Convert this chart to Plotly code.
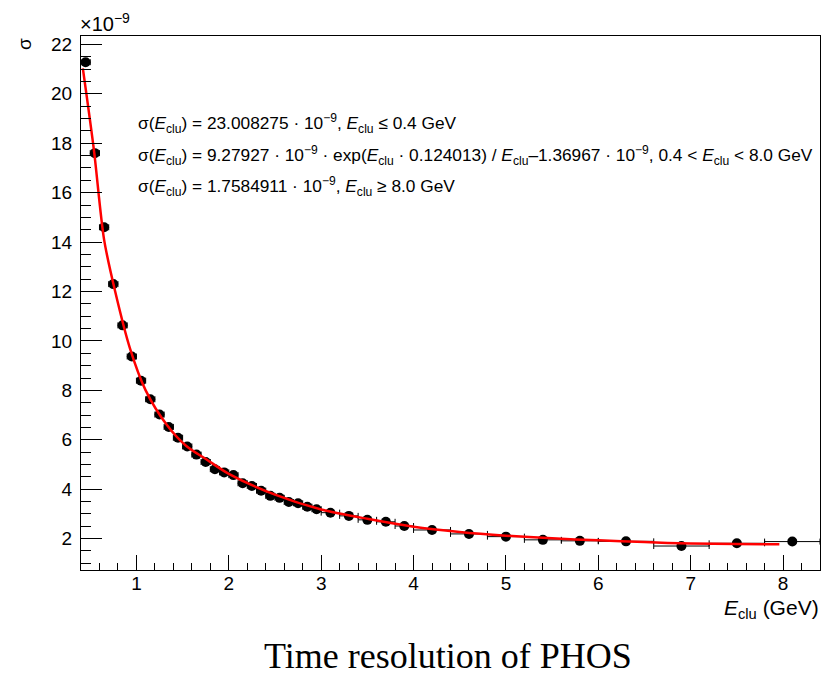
import plotly.graph_objects as go

# Data (sigma in units of 1e-9)
e_clu = [0.45, 0.55, 0.65, 0.75, 0.85, 0.95, 1.05, 1.15, 1.25, 1.35, 1.45, 1.55, 1.65,
         1.75, 1.85, 1.95, 2.05, 2.15, 2.25, 2.35, 2.45, 2.55, 2.65, 2.75, 2.85, 2.95,
         3.1, 3.3, 3.5, 3.7, 3.9, 4.2, 4.6, 5.0, 5.4, 5.8, 6.3, 6.9, 7.5, 8.1]
e_half_width = [0.05] * 26 + [0.1] * 5 + [0.2] * 5 + [0.3] * 4
sigma = [21.28, 17.6, 14.6, 12.3, 10.63, 9.37, 8.39, 7.64, 7.02, 6.52, 6.08, 5.73, 5.4,
         5.1, 4.81, 4.68, 4.57, 4.24, 4.13, 3.94, 3.73, 3.65, 3.48, 3.43, 3.29, 3.19,
         3.05, 2.92, 2.76, 2.68, 2.51, 2.35, 2.19, 2.08, 1.95, 1.91, 1.89, 1.70, 1.81, 1.88]

fit_x = [0.42, 0.54, 0.65, 0.77, 0.93, 1.1, 1.33, 1.54, 1.76, 2.0, 2.5, 3.0, 3.5, 4.0,
         4.5, 5.0, 5.5, 6.0, 6.5, 7.0, 7.5, 7.96]
fit_y = [21.03, 17.72, 14.1, 12.0, 9.7, 8.0, 6.6, 5.75, 5.2, 4.62, 3.78, 3.18, 2.8, 2.48,
         2.27, 2.12, 2.01, 1.93, 1.86, 1.80, 1.78, 1.77]

x_range = [0.4, 8.4]
y_range = [0.73, 22.34]

W, H = 823, 677
L, R, T, B = 81, 3, 36, 107
PW, PH = W - L - R, H - T - B


def px(xp):
    return (xp - L) / PW


def py(yp):
    return (H - B - yp) / PH


SANS = "Liberation Sans, Arial, sans-serif"

fig = go.Figure()
fig.add_trace(go.Scatter(
    x=e_clu, y=sigma, mode="markers",
    marker=dict(color="black", size=10),
    error_x=dict(type="data", array=e_half_width, color="black", thickness=1, width=3),
    showlegend=False,
))
fig.add_trace(go.Scatter(
    x=fit_x, y=fit_y, mode="lines",
    line=dict(color="#ff0000", width=2.5, shape="spline", smoothing=0.8),
    showlegend=False,
))

axis_common = dict(
    showgrid=False, zeroline=False, showline=True, linecolor="black", linewidth=1,
    mirror=True, ticks="inside", tickcolor="black",
    tickfont=dict(family=SANS, size=19, color="black"),
)
fig.update_xaxes(range=x_range, dtick=1, tick0=0, ticklen=15, tickwidth=1,
                 minor=dict(dtick=0.2, tick0=0, ticklen=7, ticks="inside", tickcolor="black"),
                 ticklabelstandoff=-4, **axis_common)
fig.update_yaxes(range=y_range, dtick=2, tick0=0, ticklen=21, tickwidth=1,
                 minor=dict(dtick=0.5, tick0=0, ticklen=10, ticks="inside", tickcolor="black"),
                 ticklabelstandoff=4, **axis_common)

ann = []
# exponent
ann.append(dict(x=px(78), y=py(37), xref="paper", yref="paper", xanchor="left", yanchor="bottom",
                text="×10<sup>−9</sup>", showarrow=False,
                font=dict(family=SANS, size=20, color="black")))
# y title
ann.append(dict(x=px(24), y=py(44), xref="paper", yref="paper", xanchor="center", yanchor="middle",
                text="σ", textangle=-90, showarrow=False,
                font=dict(family=SANS, size=19, color="black")))
# x title
ann.append(dict(x=px(821), y=py(594), xref="paper", yref="paper", xanchor="right", yanchor="top",
                text="<i>E</i><sub>clu</sub> (GeV)", showarrow=False,
                font=dict(family=SANS, size=21, color="black")))
# formulas
formulas = [
    "σ(<i>E</i><sub>clu</sub>) = 23.008275 · 10<sup>−9</sup>, <i>E</i><sub>clu</sub> ≤ 0.4 GeV",
    "σ(<i>E</i><sub>clu</sub>) = 9.27927 · 10<sup>−9</sup> · exp(<i>E</i><sub>clu</sub> · 0.124013) / <i>E</i><sub>clu</sub>–1.36967 · 10<sup>−9</sup>, 0.4 &lt; <i>E</i><sub>clu</sub> &lt; 8.0 GeV",
    "σ(<i>E</i><sub>clu</sub>) = 1.7584911 · 10<sup>−9</sup>, <i>E</i><sub>clu</sub> ≥ 8.0 GeV",
]
for i, f in enumerate(formulas):
    ann.append(dict(x=px(136), y=py(124 + 31 * i), xref="paper", yref="paper",
                    xanchor="left", yanchor="middle", text=f, showarrow=False,
                    font=dict(family=SANS, size=17.3, color="black")))
# caption
ann.append(dict(x=px(448), y=py(656), xref="paper", yref="paper", xanchor="center", yanchor="middle",
                text="Time resolution of PHOS", showarrow=False,
                font=dict(family="Liberation Serif, Times New Roman, serif", size=36, color="black")))

fig.update_layout(width=W, height=H, margin=dict(l=L, r=R, t=T, b=B),
                  paper_bgcolor="white", plot_bgcolor="white", annotations=ann)

fig.write_html("out.html")
